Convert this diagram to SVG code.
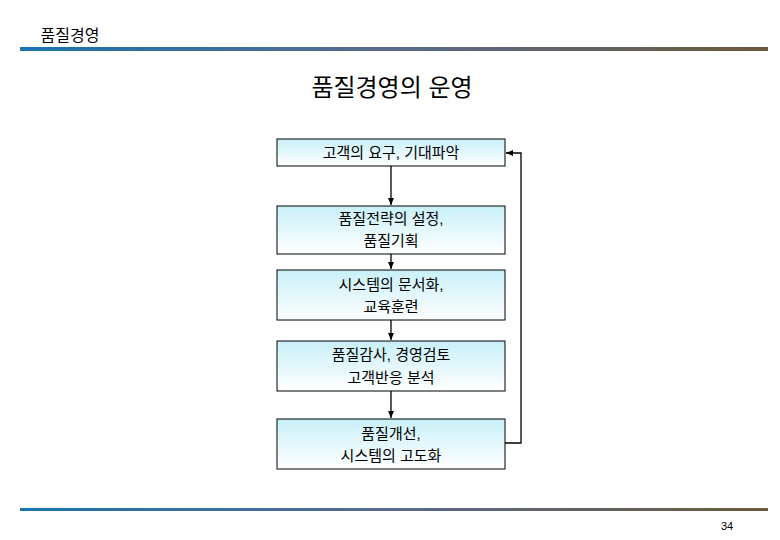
<svg xmlns="http://www.w3.org/2000/svg" width="780" height="540" viewBox="0 0 780 540">
<defs>
<linearGradient id="bar" x1="0" x2="1" y1="0" y2="0"><stop offset="0" stop-color="#1a74b0"/><stop offset="0.5" stop-color="#5a6a8c"/><stop offset="1" stop-color="#6b5a3a"/></linearGradient>
<linearGradient id="box" x1="0" x2="0" y1="0" y2="1"><stop offset="0" stop-color="#c8f0f8"/><stop offset="1" stop-color="#ffffff"/></linearGradient>
<marker id="ah" markerWidth="8" markerHeight="8" refX="7" refY="4" orient="auto" markerUnits="userSpaceOnUse"><path d="M0,1 L7,4 L0,7 Z" fill="#000"/></marker>
</defs>
<style>
text{font-family:"Liberation Sans","Noto Sans CJK KR",sans-serif;fill:#000;text-anchor:middle}
.n rect{fill:url(#box);stroke:#000;stroke-width:1}
.n text{font-size:15px}
#conn path{fill:none;stroke:#000;stroke-width:1.3;marker-end:url(#ah)}
</style>
<rect width="780" height="540" fill="#fff"/>
<text x="70" y="41" style="font-size:16px;text-anchor:middle">품질경영</text>
<rect x="20" y="47" width="748" height="4" fill="url(#bar)"/>
<text x="392" y="96" style="font-size:24px">품질경영의 운영</text>
<g id="n1" class="n"><rect x="277" y="139" width="228" height="27"/><text x="391" y="158">고객의 요구, 기대파악</text></g>
<g id="n2" class="n"><rect x="277" y="206" width="228" height="48"/><text x="391" y="224">품질전략의 설정,</text><text x="391" y="246">품질기획</text></g>
<g id="n3" class="n"><rect x="277" y="270" width="228" height="50"/><text x="391" y="290">시스템의 문서화,</text><text x="391" y="312">교육훈련</text></g>
<g id="n4" class="n"><rect x="277" y="341" width="228" height="50"/><text x="391" y="360">품질감사, 경영검토</text><text x="391" y="383">고객반응 분석</text></g>
<g id="n5" class="n"><rect x="277" y="419" width="228" height="50"/><text x="391" y="439">품질개선,</text><text x="391" y="461">시스템의 고도화</text></g>
<g id="conn">
<path d="M391,166 V205"/>
<path d="M391,254 V269"/>
<path d="M391,320 V340"/>
<path d="M391,391 V418"/>
<path d="M505,443 H521 V153 H506"/>
</g>
<rect x="20" y="508" width="748" height="3" fill="url(#bar)"/>
<text x="727" y="530" style="font-size:11px">34</text>
</svg>
